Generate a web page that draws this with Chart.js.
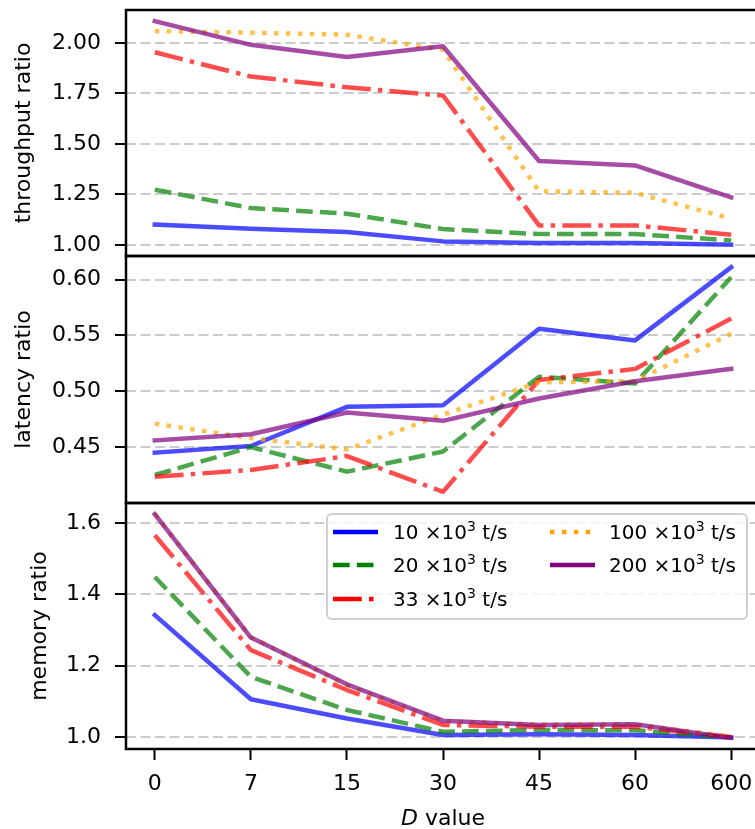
<!DOCTYPE html>
<html>
<head>
<meta charset="utf-8">
<script src="https://cdn.jsdelivr.net/npm/chart.js@4.4.0/dist/chart.umd.min.js"></script>
<style>
  html, body { margin: 0; padding: 0; background: #fff; overflow: hidden; }
  body { width: 755px; height: 829px; position: relative; font-family: "DejaVu Sans", sans-serif; }
  .panel { position: absolute; left: 0; width: 775px; }
  #xtitle { position: absolute; left: 343px; width: 200px; top: 807px; text-align: center;
            font-size: 22px; line-height: 22px; color: #000; }
  #legend { position: absolute; left: 326px; top: 513px; width: 422px; height: 107px; box-sizing: border-box;
            border: 2px solid #d0d0d0; border-radius: 6px; background: rgba(255,255,255,0.8); }
  .entry { position: absolute; height: 30px; width: 200px; }
  .entry svg { position: absolute; top: 10px; }
  .entry span { position: absolute; top: 4px; font-size: 20px; line-height: 22px; white-space: nowrap; color: #000; }
  .entry sup { font-size: 0.7em; line-height: 0; vertical-align: 0.55em; }
</style>
</head>
<body>
<div class="panel" style="top:0;height:266px"><canvas id="c1"></canvas></div>
<div class="panel" style="top:246px;height:267px"><canvas id="c2"></canvas></div>
<div class="panel" style="top:493px;height:336px"><canvas id="c3"></canvas></div>
<div id="xtitle"><i>D</i> value</div>
<div id="legend"></div>
<script>
// x categories and series names (×10^3 t/s)
var dValues = ['0', '7', '15', '30', '45', '60', '600'];
var rates = ['10', '20', '33', '100', '200'];

// throughput ratio
var thr10  = [1.100, 1.080, 1.063, 1.017, 1.009, 1.009, 1.000];
var thr20  = [1.273, 1.182, 1.154, 1.078, 1.053, 1.053, 1.022];
var thr33  = [1.953, 1.833, 1.780, 1.739, 1.096, 1.096, 1.050];
var thr100 = [2.058, 2.050, 2.040, 1.965, 1.265, 1.257, 1.130];
var thr200 = [2.107, 1.990, 1.930, 1.983, 1.415, 1.393, 1.235];

// latency ratio
var lat10  = [0.445, 0.451, 0.486, 0.4875, 0.556, 0.5455, 0.611];
var lat20  = [0.425, 0.450, 0.428, 0.446, 0.513, 0.507, 0.602];
var lat33  = [0.4235, 0.4295, 0.442, 0.410, 0.510, 0.520, 0.565];
var lat100 = [0.471, 0.458, 0.448, 0.479, 0.508, 0.509, 0.5515];
var lat200 = [0.456, 0.4615, 0.481, 0.4735, 0.4935, 0.509, 0.520];

// memory ratio
var mem10  = [1.342, 1.106, 1.052, 1.006, 1.008, 1.006, 0.999];
var mem20  = [1.449, 1.169, 1.076, 1.015, 1.020, 1.019, 0.999];
var mem33  = [1.566, 1.244, 1.132, 1.034, 1.029, 1.029, 1.000];
var mem100 = [1.625, 1.280, 1.145, 1.045, 1.035, 1.035, 1.002];
var mem200 = [1.625, 1.279, 1.148, 1.046, 1.034, 1.036, 0.998];

// y tick labels
var thrTicks = [1.00, 1.25, 1.50, 1.75, 2.00];
var latTicks = [0.45, 0.50, 0.55, 0.60];
var memTicks = [1.0, 1.2, 1.4, 1.6];

// line styles (matplotlib-like dash patterns scaled by lw = 4.5px)
var LW = 4.5;
var rgb = ['0,0,255', '0,128,0', '255,0,0', '255,165,0', '128,0,128'];
var dashes = [[], [3.7, 1.6], [6.4, 1.6, 1, 1.6], [1, 1.65], []].map(function (d) {
    return d.map(function (v) { return v * LW; });
});

var FONT = 'DejaVu Sans';

function buildDatasets(seriesList) {
    return seriesList.map(function (vals, i) {
        return {
            label: rates[i],
            data: vals.map(function (v, k) { return { x: k, y: v }; }),
            borderColor: 'rgba(' + rgb[i] + ',0.7)',
            borderWidth: LW,
            borderDash: dashes[i],
            borderCapStyle: dashes[i].length ? 'butt' : 'square',
            borderJoinStyle: 'round',
            pointRadius: 0,
            fill: false,
            tension: 0,
            clip: 0,
            order: seriesList.length - i
        };
    });
}

// matplotlib style 5% auto margins
function padRange(seriesList) {
    var all = [].concat.apply([], seriesList);
    var lo = Math.min.apply(null, all), hi = Math.max.apply(null, all);
    var m = (hi - lo) * 0.05;
    return [lo - m, hi + m];
}

var framePlugin = {
    id: 'frame',
    afterDatasetsDraw: function (chart) {
        var ctx = chart.ctx, a = chart.chartArea;
        ctx.save();
        ctx.strokeStyle = '#000';
        ctx.lineWidth = 2.5;
        ctx.strokeRect(a.left, a.top, a.right - a.left, a.bottom - a.top);
        ctx.restore();
    }
};

function makePanel(canvasId, seriesList, ticks, decimals, title, titleOffset, showX, pad) {
    var range = padRange(seriesList);
    return new Chart(document.getElementById(canvasId), {
        type: 'line',
        data: { datasets: buildDatasets(seriesList) },
        options: {
            animation: false,
            responsive: true,
            maintainAspectRatio: false,
            layout: { padding: pad },
            plugins: { legend: { display: false }, tooltip: { enabled: false } },
            scales: {
                x: {
                    type: 'linear',
                    min: -0.3,
                    max: 6.3,
                    display: showX,
                    afterBuildTicks: function (s) {
                        s.ticks = dValues.map(function (_, k) { return { value: k }; });
                    },
                    afterFit: function (s) {
                        if (showX) s.height = 80;
                        s.paddingLeft = 0;
                        s.paddingRight = 0;
                    },
                    grid: { drawOnChartArea: false, drawTicks: true, tickLength: 11,
                            tickColor: '#000', tickWidth: 2 },
                    border: { display: false },
                    ticks: {
                        autoSkip: false, maxRotation: 0, padding: 11, color: '#000',
                        font: { family: FONT, size: 22 },
                        callback: function (v) { return dValues[v]; }
                    }
                },
                y: {
                    type: 'linear',
                    min: range[0],
                    max: range[1],
                    afterBuildTicks: function (s) {
                        s.ticks = ticks.map(function (v) { return { value: v }; });
                    },
                    afterFit: function (s) {
                        s.width = 126;
                        s.paddingTop = 0;
                        s.paddingBottom = 0;
                    },
                    grid: { color: '#cccccc', lineWidth: 2, tickLength: 11, tickColor: '#000',
                            tickWidth: 2, tickBorderDash: [] },
                    border: { display: false, dash: [10, 4.5] },
                    ticks: {
                        padding: 14, color: '#000',
                        font: { family: FONT, size: 22 },
                        callback: function (v) { return v.toFixed(decimals); }
                    },
                    title: {
                        display: true, text: title, color: '#000',
                        font: { family: FONT, size: 22 },
                        padding: { top: titleOffset, bottom: 0 }
                    }
                }
            }
        },
        plugins: [framePlugin]
    });
}

makePanel('c1', [thr10, thr20, thr33, thr100, thr200], thrTicks, 2, 'throughput ratio', 10.8, false,
    { left: 0, right: 15, top: 10, bottom: 10 });
makePanel('c2', [lat10, lat20, lat33, lat100, lat200], latTicks, 2, 'latency ratio', 10.8, false,
    { left: 0, right: 15, top: 10, bottom: 10 });
makePanel('c3', [mem10, mem20, mem33, mem100, mem200], memTicks, 1, 'memory ratio', 26.8, true,
    { left: 0, right: 15, top: 10, bottom: 0 });

// legend, 2 columns filled column-wise
var legendEl = document.getElementById('legend');
var colX = [[5, 65], [222, 281]];
var rowY = [16.7, 50, 84];
rates.forEach(function (r, i) {
    var col = i < 3 ? 0 : 1, row = i < 3 ? i : i - 3;
    var e = document.createElement('div');
    e.className = 'entry';
    e.style.left = colX[col][0] + 'px';
    e.style.top = (rowY[row] - 15) + 'px';
    var dash = dashes[i].length ? ' stroke-dasharray="' + dashes[i].join(',') + '"' : '';
    e.innerHTML = '<svg width="45" height="10" style="left:0"><line x1="0" y1="5" x2="45" y2="5" stroke="rgb(' +
        rgb[i] + ')" stroke-width="' + LW + '"' + dash + '/></svg>' +
        '<span style="left:' + (colX[col][1] - colX[col][0]) + 'px">' + r + ' \u00d710<sup>3</sup> t/s</span>';
    legendEl.appendChild(e);
});
</script>
</body>
</html>
